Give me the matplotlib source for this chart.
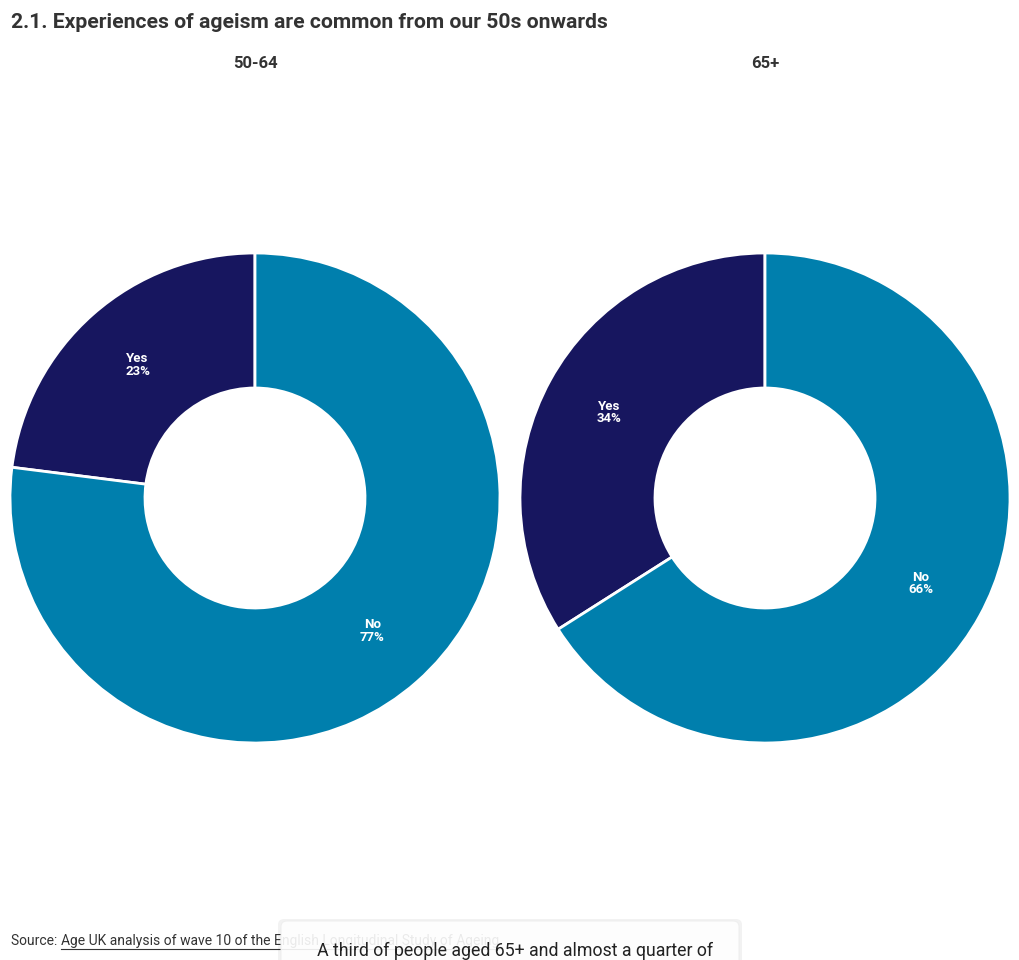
import numpy as np
import matplotlib.pyplot as plt
from matplotlib.patches import FancyBboxPatch
from matplotlib.lines import Line2D

plt.rcParams['font.family'] = ['Roboto', 'DejaVu Sans']

TITLE = "2.1. Experiences of ageism are common from our 50s onwards"
groups = ["50-64", "65+"]
labels = ["Yes", "No"]
yes_vals = [23, 34]
no_vals = [77, 66]
colors = ["#17165f", "#007fad"]
SOURCE_LINK = "Age UK analysis of wave 10 of the English Longitudinal Study of Ageing"
NOTE = "A third of people aged 65+ and almost a quarter of"

W, H = 1020, 960
fig = plt.figure(figsize=(W / 100, H / 100), dpi=100)

fig.text(11 / W, 1 - 23 / H, TITLE, fontsize=15.2, fontweight='bold', color='#333333',
         va='center', ha='left')

centers = [255, 765]
R_OUT = 245
R_IN = 110
ring = (R_OUT - R_IN) / R_OUT

for i, g in enumerate(groups):
    cx = centers[i]
    cy = 498
    ax = fig.add_axes([(cx - R_OUT) / W, 1 - (cy + R_OUT) / H, 2 * R_OUT / W, 2 * R_OUT / H])
    vals = [yes_vals[i], no_vals[i]]
    ax.pie(vals, colors=colors, startangle=90, counterclock=True, radius=1,
           wedgeprops=dict(width=ring, edgecolor='white', linewidth=2))
    start = 90
    for v, lab in zip(vals, labels):
        mid = np.deg2rad(start + v * 3.6 / 2)
        r = 1 - ring / 2
        ax.text(r * np.cos(mid), r * np.sin(mid), f"{lab}\n{v}%", ha='center', va='center',
                color='white', fontsize=9.5, fontweight='bold', linespacing=0.95)
        start += v * 3.6
    ax.set_xlim(-1, 1)
    ax.set_ylim(-1, 1)
    ax.set_aspect('equal')
    ax.axis('off')
    fig.text(cx / W, 1 - 64 / H, g, ha='center', va='center', fontsize=12,
             fontweight='bold', color='#333333')

# source line
t1 = fig.text(11 / W, 1 - 941 / H, "Source: ", fontsize=10, color='#333333', va='center', ha='left')
fig.canvas.draw()
bb = t1.get_window_extent()
t2 = fig.text(bb.x1 / W, 1 - 941 / H, SOURCE_LINK, fontsize=10, color='#333333',
              va='center', ha='left')
fig.canvas.draw()
bb2 = t2.get_window_extent()
fig.add_artist(Line2D([bb2.x0 / W, bb2.x1 / W], [(bb2.y0 - 1) / H, (bb2.y0 - 1) / H],
                      color='#333333', linewidth=0.8))

# overlay note box
shadow = FancyBboxPatch((278 / W, -20 / H), 464 / W, 61 / H,
                        boxstyle="round,pad=0,rounding_size=0.006",
                        transform=fig.transFigure, facecolor='#000000', alpha=0.05,
                        edgecolor='none', zorder=5)
fig.add_artist(shadow)
box = FancyBboxPatch((281 / W, -20 / H), 458 / W, 59 / H,
                     boxstyle="round,pad=0,rounding_size=0.006",
                     transform=fig.transFigure, facecolor='white', alpha=0.9,
                     edgecolor='#eeeeee', linewidth=0.8, zorder=6)
fig.add_artist(box)
fig.text(317 / W, 1 - 951 / H, NOTE, fontsize=12.8, color='#222222', va='center',
         ha='left', zorder=7)

fig.savefig("out.png", dpi=100)
